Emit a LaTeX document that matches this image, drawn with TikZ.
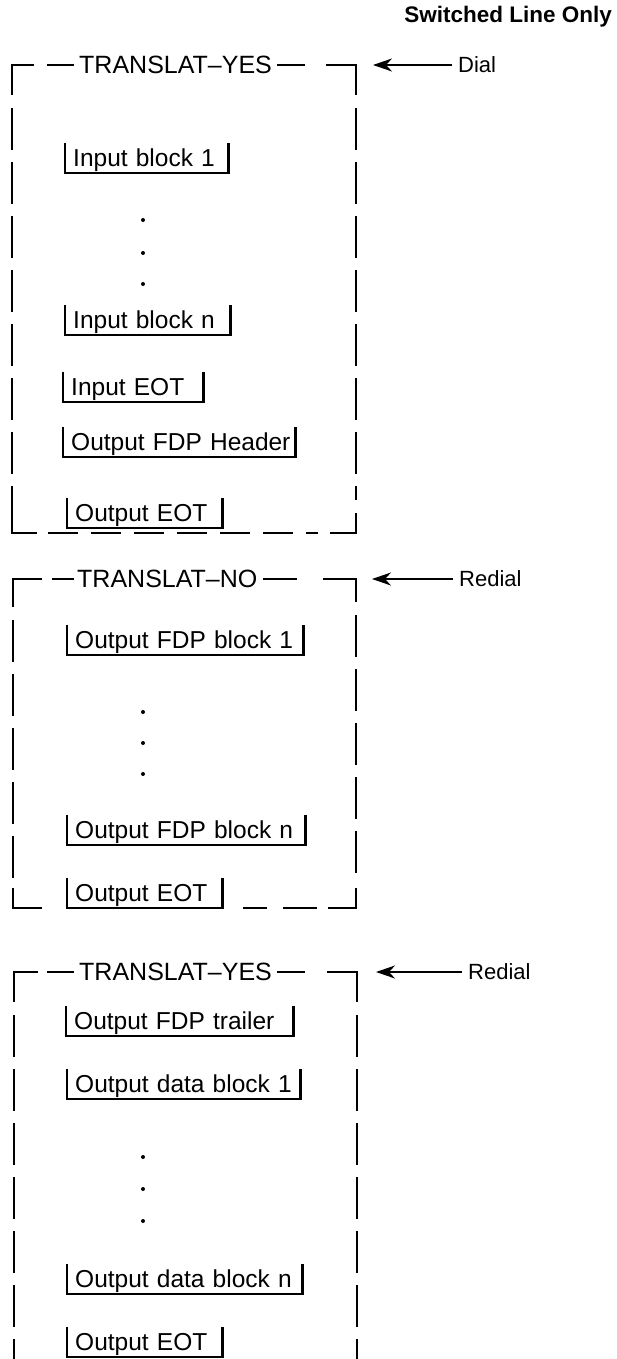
\documentclass[tikz,border=0pt]{standalone}
\usepackage{fontspec}
\setmainfont{Liberation Sans}
\usetikzlibrary{arrows.meta}
\newcommand\myitem[5]{%
  \node[itm, text width=#3pt] (#1) at (#2,#4) {\mbox{#5}};
  \draw[brk] (#1.north west) |- (#1.south east) -- (#1.north east);}
\begin{document}
\begin{tikzpicture}[x=1pt,y=-1pt,
  edge/.style={line width=2.4pt},
  vdash/.style={line width=2.4pt, dash pattern=on 42pt off 12pt},
  hdash/.style={line width=2.4pt, dash pattern=on 30pt off 13pt},
  itm/.style={anchor=south west, inner xsep=8pt, inner ysep=0pt, text height=24pt, text depth=6pt, align=left, font=\fontsize{24.5}{28}\selectfont},
  brk/.style={line width=2.2pt},
  ttl/.style={anchor=west, inner sep=0pt, font=\fontsize{25}{28}\selectfont},
  lbl/.style={anchor=west, inner xsep=6pt, inner ysep=0pt, font=\fontsize{22}{26}\selectfont},
  arr/.style={line width=2.2pt, -{Stealth[length=19pt,width=13pt,inset=6pt]}},
  dot/.style={circle, fill, inner sep=0pt, minimum size=4pt}
]
\useasboundingbox (0,0) rectangle (617,1359);

% heading
\node[anchor=base east, inner sep=0pt, font=\bfseries\fontsize{22.5}{26}\selectfont] (hdr) at (612,23) {Switched Line Only};

% ---------- Box 1 ----------
\node[ttl] (t1) at (79,65) {TRANSLAT–YES};
\draw[edge] (34,65) -- (12,65) -- (12,95);
\draw[edge] (47,65) -- ([xshift=-5pt]t1.west);
\draw[edge] ([xshift=5pt]t1.east) -- ++(28,0);
\draw[edge] (326,65) -- (356,65) -- (356,95);
\draw[vdash] (12,108) -- (12,515);
\draw[vdash] (356,108) -- (356,500);
\draw[edge] (12,513) -- (12,533) -- (37,533);
\draw[hdash] (48,533) -- (318,533);
\draw[edge] (330,533) -- (356,533) -- (356,513);

\node[lbl] (dial) at (452,65) {Dial};
\coordinate (a1) at (373,65);
\draw[arr] (dial.west) -- (a1);

\myitem{ib1}{65}{147}{173}{Input block 1}
\node[dot] (d1a) at (143,220) {};
\node[dot] (d1b) at (143,253) {};
\node[dot] (d1c) at (143,284) {};
\myitem{ibn}{65}{149}{335}{Input block n}
\myitem{ieot}{63}{124}{402}{Input EOT}
\myitem{ofh}{63}{216}{457}{Output FDP Header}
\myitem{oeota}{67}{139}{528}{Output EOT}

% ---------- Box 2 ----------
\node[ttl] (t2) at (77,579) {TRANSLAT–NO};
\draw[edge] (42,579) -- (13,579) -- (13,607);
\draw[edge] (52,579) -- ([xshift=-3pt]t2.west);
\draw[edge] ([xshift=5pt]t2.east) -- ++(34,0);
\draw[edge] (323,579) -- (356,579) -- (356,602);
\draw[vdash] (13,620) -- (13,890);
\draw[vdash] (356,615) -- (356,880);
\draw[edge] (13,888) -- (13,908) -- (42,908);
\draw[edge] (243,908) -- (267,908);
\draw[edge] (283,908) -- (317,908);
\draw[edge] (328,908) -- (356,908) -- (356,888);

\node[lbl] (redb) at (453,579) {Redial};
\coordinate (a2) at (372,579);
\draw[arr] (redb.west) -- (a2);

\myitem{ofb1}{67}{220}{655}{Output FDP block 1}
\node[dot] (d2a) at (143,712) {};
\node[dot] (d2b) at (143,743) {};
\node[dot] (d2c) at (143,774) {};
\myitem{ofbn}{67}{222}{845}{Output FDP block n}
\myitem{oeotb}{67}{139}{908}{Output EOT}

% ---------- Box 3 ----------
\node[ttl] (t3) at (79,972) {TRANSLAT–YES};
\draw[edge] (38,972) -- (14,972) -- (14,1002);
\draw[edge] (47,972) -- ([xshift=-5pt]t3.west);
\draw[edge] ([xshift=5pt]t3.east) -- ++(28,0);
\draw[edge] (327,972) -- (357,972) -- (357,1002);
\draw[vdash] (14,1015) -- (14,1359);
\draw[vdash] (357,1015) -- (357,1359);

\node[lbl] (redc) at (462,972) {Redial};
\coordinate (a3) at (376,972);
\draw[arr] (redc.west) -- (a3);

\myitem{oft}{66}{211}{1036}{Output FDP trailer}
\myitem{odb1}{67}{217}{1099}{Output data block 1}
\node[dot] (d3a) at (143,1157) {};
\node[dot] (d3b) at (143,1189) {};
\node[dot] (d3c) at (143,1221) {};
\myitem{odbn}{67}{219}{1294}{Output data block n}
\myitem{oeotc}{67}{139}{1357}{Output EOT}
\end{tikzpicture}
\end{document}
